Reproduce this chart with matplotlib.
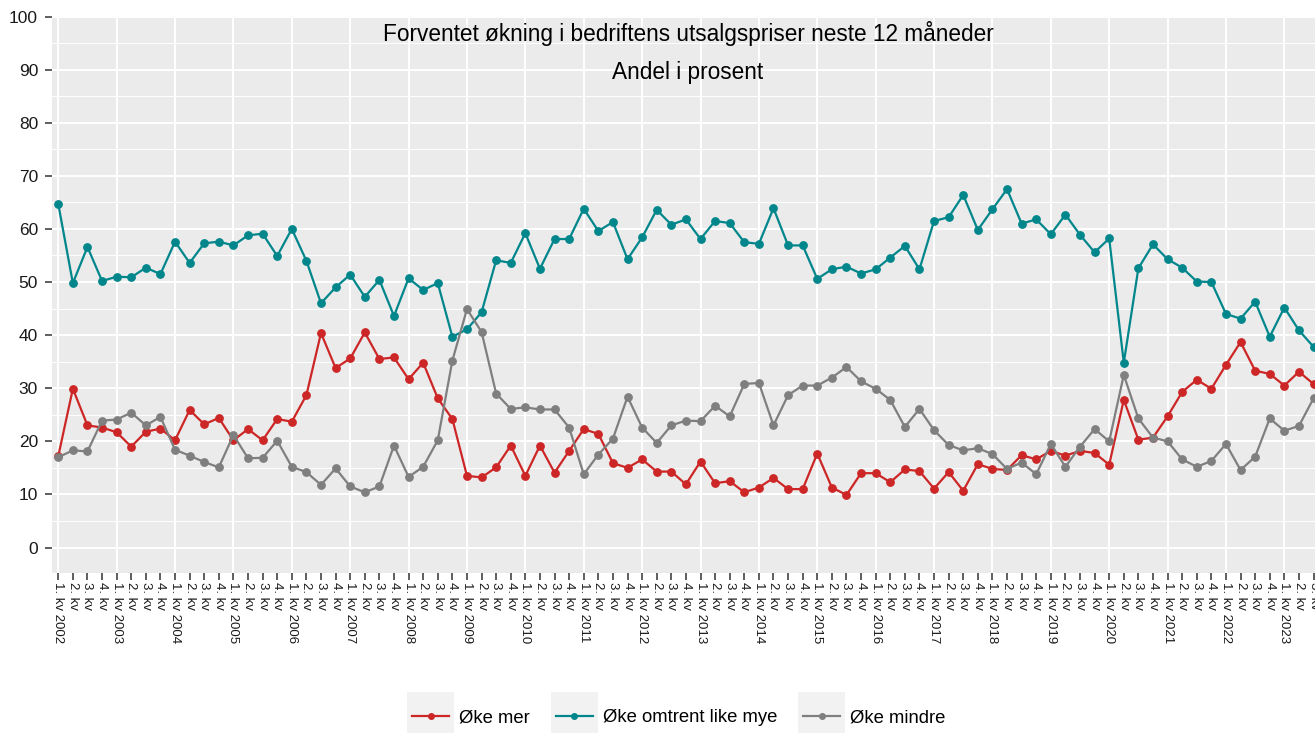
import matplotlib
matplotlib.use("Agg")
import numpy as np
import matplotlib.pyplot as plt
from matplotlib.patches import Rectangle
from matplotlib.lines import Line2D

plt.rcParams["font.family"] = ["Liberation Sans", "DejaVu Sans"]

# quarters from 1. kv 2002 to 3. kv 2023 (chart is cut at the right edge)
first_year = 2002
n_quarters = 87
quarters = [f"{i % 4 + 1}. kv {first_year + i // 4}" if i % 4 == 0 else f"{i % 4 + 1}. kv"
            for i in range(n_quarters)]

oke_mer = [
    17.2, 29.9, 23.0, 22.6, 21.7, 19.0, 21.8, 22.4,
    20.2, 25.9, 23.2, 24.4, 20.2, 22.3, 20.2, 24.2,
    23.7, 28.7, 40.4, 33.8, 35.6, 40.5, 35.5, 35.8,
    31.7, 34.8, 28.1, 24.2, 13.5, 13.2, 15.1, 19.2,
    13.5, 19.2, 14.1, 18.2, 22.3, 21.4, 15.9, 15.0,
    16.6, 14.3, 14.3, 11.9, 16.2, 12.1, 12.5, 10.4,
    11.3, 13.1, 11.0, 11.0, 17.7, 11.3, 9.9, 14.0,
    14.0, 12.3, 14.7, 14.4, 11.1, 14.2, 10.7, 15.7,
    14.8, 14.6, 17.4, 16.6, 18.2, 17.3, 18.2, 17.8,
    15.6, 27.8, 20.3, 20.7, 24.7, 29.3, 31.6, 29.9,
    34.4, 38.7, 33.3, 32.7, 30.5, 33.1, 30.8,
]

oke_like_mye = [
    64.7, 49.8, 56.6, 50.2, 51.0, 50.9, 52.7, 51.5,
    57.6, 53.6, 57.3, 57.6, 56.9, 58.8, 59.1, 54.9,
    60.0, 54.0, 46.0, 49.0, 51.4, 47.2, 50.4, 43.6,
    50.7, 48.5, 49.8, 39.7, 41.1, 44.3, 54.1, 53.6,
    59.2, 52.5, 58.1, 58.1, 63.8, 59.6, 61.3, 54.3,
    58.4, 63.6, 60.8, 61.8, 58.1, 61.5, 61.1, 57.5,
    57.2, 63.9, 56.9, 56.9, 50.6, 52.4, 52.9, 51.6,
    52.4, 54.6, 56.8, 52.4, 61.5, 62.2, 66.4, 59.8,
    63.7, 67.5, 61.0, 61.8, 59.0, 62.7, 58.9, 55.6,
    58.2, 34.8, 52.6, 57.1, 54.3, 52.7, 50.1, 50.0,
    44.0, 43.1, 46.3, 39.7, 45.2, 40.9, 37.8,
]

oke_mindre = [
    17.0, 18.3, 18.1, 23.9, 24.1, 25.4, 23.0, 24.6,
    18.4, 17.3, 16.1, 15.1, 21.2, 16.8, 16.9, 20.1,
    15.2, 14.2, 11.8, 14.9, 11.5, 10.4, 11.5, 19.2,
    13.3, 15.2, 20.2, 35.2, 44.9, 40.6, 29.0, 26.1,
    26.4, 26.0, 26.0, 22.6, 13.8, 17.5, 20.5, 28.4,
    22.6, 19.7, 23.0, 23.9, 23.8, 26.7, 24.7, 30.8,
    31.0, 23.0, 28.7, 30.5, 30.5, 32.0, 34.0, 31.3,
    29.9, 27.8, 22.7, 26.1, 22.1, 19.3, 18.3, 18.7,
    17.6, 14.8, 16.0, 13.8, 19.5, 15.2, 19.0, 22.3,
    20.0, 32.5, 24.3, 20.7, 20.0, 16.6, 15.2, 16.3,
    19.5, 14.6, 17.1, 24.3, 22.0, 22.9, 28.1,
]

series = [
    ("Øke mer", oke_mer, "#CD2626"),
    ("Øke omtrent like mye", oke_like_mye, "#00868B"),
    ("Øke mindre", oke_mindre, "#7F7F7F"),
]

W, H = 1315, 733
fig = plt.figure(figsize=(W / 100, H / 100), dpi=100)
ax_top, ax_bot = 15.5, 573
ax = fig.add_axes([51.7 / W, 1 - ax_bot / H, 1 - 51.7 / W, (ax_bot - ax_top) / H])
ax.set_facecolor("#EBEBEB")
for s in ax.spines.values():
    s.set_visible(False)

x = np.arange(n_quarters)
handles = []
for name, vals, col in series:
    ln, = ax.plot(x, vals, color=col, lw=1.6, marker="o", ms=5.3, zorder=3,
                  solid_joinstyle="round", label=name)
    handles.append(ln)

ax.set_xlim(-0.45, 86.1)
ax.set_ylim(-4.8, 100.2)

ax.set_yticks(range(0, 101, 10))
ax.set_yticks(range(5, 100, 10), minor=True)
ax.set_xticks(x)
ax.set_xticklabels(quarters, rotation=-90, fontsize=9.5)
ax.xaxis.remove_overlapping_locs = False
ax.set_xticks(x[::4], minor=True)

ax.grid(True, which="major", axis="y", color="white", lw=1.4, zorder=0)
ax.grid(True, which="minor", axis="y", color="white", lw=0.7, zorder=0)
ax.grid(True, which="minor", axis="x", color="white", lw=1.4, zorder=0)
ax.set_axisbelow(True)

ax.tick_params(axis="both", which="major", length=4.8, width=1.1, color="#333333",
               labelcolor="#1a1a1a")
ax.tick_params(axis="y", labelsize=12.5, pad=5)
ax.tick_params(axis="x", pad=2)
ax.tick_params(which="minor", length=0)

ph = ax_bot - ax_top
ax.text(0.5037, 1 - (33 - ax_top) / ph,
        "Forventet økning i bedriftens utsalgspriser neste 12 måneder",
        transform=ax.transAxes, ha="center", va="center", fontsize=16.3)
ax.text(0.5037, 1 - (73 - ax_top) / ph, "Andel i prosent",
        transform=ax.transAxes, ha="center", va="center", fontsize=16.3)

leg = fig.legend(handles=[Line2D([], [], color=c, lw=1.6, marker="o", ms=4) for _, _, c in series],
                 labels=[n for n, _, _ in series], loc="center",
                 bbox_to_anchor=(679 / W, 1 - 718 / H), ncol=3, frameon=False,
                 fontsize=13.3, handlelength=2.0, handletextpad=0.55, columnspacing=1.4)

# grey key backgrounds behind the legend symbols
fig.canvas.draw()
for h in leg.legend_handles:
    bb = h.get_window_extent()
    cx, cy = (bb.x0 + bb.x1) / 2, (bb.y0 + bb.y1) / 2
    fig.add_artist(Rectangle(((cx - 23.5) / W, (cy - 24) / H), 47 / W, 48 / H,
                             transform=fig.transFigure, facecolor="#F2F2F2",
                             edgecolor="none", zorder=0))

fig.savefig("out.png", dpi=100)
